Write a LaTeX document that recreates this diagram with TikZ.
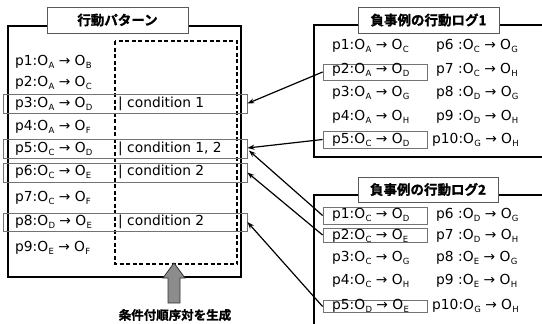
\documentclass[tikz,border=0pt]{standalone}
\usepackage{fontspec}
\setmainfont{DejaVu Sans}
\newfontfamily\cjk{Noto Sans CJK JP}[BoldFont={* Bold}, BoldFeatures={FakeBold=1.2}]
\usetikzlibrary{arrows.meta}
\newcommand\Ob[1]{O\kern0.3pt\raisebox{-0.4ex}{\fontsize{8.5}{9}\selectfont #1}}
\newcommand\ent[3]{#1:\Ob{#2} → \Ob{#3}}
\tikzset{
  frame/.style={draw=black, line width=2.6pt},
  titlebox/.style={draw=black!65, line width=0.8pt, fill=white, inner sep=0pt},
  titletext/.style={font=\cjk\bfseries\fontsize{13.5}{14}\selectfont, inner sep=0pt},
  hl/.style={draw=black!55, line width=0.8pt, inner sep=0pt, fill=none},
  txt/.style={anchor=west, inner sep=0pt, font=\fontsize{13.8}{15}\selectfont},
  link/.style={draw=black, line width=1.2pt, -{Stealth[length=7pt,width=5pt]}},
}
\begin{document}
\begin{tikzpicture}[x=1pt,y=-1pt]
\useasboundingbox (0,0) rectangle (542,324);
\begin{scope}
\clip (0,0) rectangle (542,324);
% ---------- left box
\draw[frame] (8,26) rectangle (241,277);
\node[titlebox, minimum width=141pt, minimum height=26pt] (lt) at (117.5,20) {};
\node[titletext] at (lt) {行動パターン};
\draw[dashed, line width=1.5pt, dash pattern=on 4pt off 2.5pt] (115,41) rectangle (237,264);
% highlight rows
\node[hl, minimum width=244pt, minimum height=19pt] (r3) at (125,103.5) {};
\node[hl, minimum width=244pt, minimum height=19pt] (r5) at (125,148.5) {};
\node[hl, minimum width=244pt, minimum height=19pt] (r6) at (125,172.5) {};
\node[hl, minimum width=244pt, minimum height=18pt] (r8) at (125,222) {};
% entries
\node[txt] (p1) at (15,62) {\ent{p1}{A}{B}};
\node[txt] (p2) at (15,83) {\ent{p2}{A}{C}};
\node[txt] (p3) at (15,104) {\ent{p3}{A}{D}};
\node[txt] (p4) at (15,127) {\ent{p4}{A}{F}};
\node[txt] (p5) at (15,149) {\ent{p5}{C}{D}};
\node[txt] (p6) at (15,172) {\ent{p6}{C}{E}};
\node[txt] (p7) at (15,198) {\ent{p7}{C}{F}};
\node[txt] (p8) at (15,222) {\ent{p8}{D}{E}};
\node[txt] (p9) at (15,248) {\ent{p9}{E}{F}};
\node[txt] (c3) at (118,104) {| condition 1};
\node[txt] (c5) at (118,149) {| condition 1, 2};
\node[txt] (c6) at (118,172) {| condition 2};
\node[txt] (c8) at (118,222) {| condition 2};
% gray arrow
\draw[fill=black!45, draw=black!80, line width=0.8pt] (168,303) -- (168,278) -- (163,278) -- (174,263) -- (185,278) -- (180,278) -- (180,303) -- cycle;
\node[titletext, font=\cjk\bfseries\fontsize{12.5}{13}\selectfont] (gen) at (175,315) {条件付順序対を生成};
% ---------- right box 1
\draw[frame] (314,25) rectangle (548,157);
\node[titlebox, minimum width=141pt, minimum height=26pt] (t1) at (428.5,20) {};
\node[titletext] at (t1) {負事例の行動ログ1};
\node[hl, minimum width=104pt, minimum height=16pt] (a2) at (375,72) {};
\node[hl, minimum width=104pt, minimum height=17pt] (a5) at (375,139.5) {};
\node[txt] at (332,46) {\ent{p1}{A}{C}};
\node[txt] at (332,70) {\ent{p2}{A}{D}};
\node[txt] at (332,93) {\ent{p3}{A}{G}};
\node[txt] at (332,117) {\ent{p4}{A}{H}};
\node[txt] at (332,140) {\ent{p5}{C}{D}};
\node[txt] at (436,46) {\ent{p6 }{C}{G}};
\node[txt] at (436,70) {\ent{p7 }{C}{H}};
\node[txt] at (436,93) {\ent{p8 }{D}{G}};
\node[txt] at (436,117) {\ent{p9 }{D}{H}};
\node[txt] at (432,140) {\ent{p10}{G}{H}};
% ---------- right box 2
\draw[frame] (314,195) rectangle (548,340);
\node[titlebox, minimum width=140pt, minimum height=25pt] (t2) at (428,189.5) {};
\node[titletext] at (t2) {負事例の行動ログ2};
\node[hl, minimum width=104pt, minimum height=17pt] (b1) at (375,215.5) {};
\node[hl, minimum width=104pt, minimum height=14pt] (b2) at (375,235) {};
\node[hl, minimum width=104pt, minimum height=12pt] (b5) at (375,306.5) {};
\node[txt] at (332,215) {\ent{p1}{C}{D}};
\node[txt] at (332,236) {\ent{p2}{C}{E}};
\node[txt] at (332,258) {\ent{p3}{C}{G}};
\node[txt] at (332,281) {\ent{p4}{C}{H}};
\node[txt] at (332,306) {\ent{p5}{D}{E}};
\node[txt] at (436,215) {\ent{p6 }{D}{G}};
\node[txt] at (436,236) {\ent{p7 }{D}{H}};
\node[txt] at (436,258) {\ent{p8 }{E}{G}};
\node[txt] at (436,281) {\ent{p9 }{E}{H}};
\node[txt] at (432,306) {\ent{p10}{G}{H}};
% ---------- links
\draw[link] (a2.west) -- (r3.east);
\draw[link] (a5.west) -- ([yshift=0.5pt]r5.east);
\draw[link] (b1.west) -- ([xshift=1.5pt,yshift=-2pt]r5.east);
\draw[link] (b2.west) -- (r6.east);
\draw[link] (b5.west) -- (r8.east);
\end{scope}
\end{tikzpicture}
\end{document}
